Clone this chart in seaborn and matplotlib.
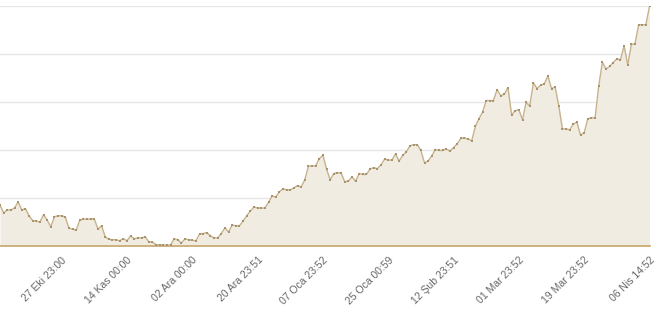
import numpy as np
import pandas as pd
import matplotlib
matplotlib.use("Agg")
import matplotlib.pyplot as plt
import matplotlib.transforms as mtrans
import seaborn as sns

# Daily values (visible window)
values = [
    8.5, 6.9, 7.5, 7.5, 7.9, 9.2, 7.5, 7.8, 6.3, 5.3,
    5.2, 5.0, 6.5, 5.4, 4.0, 6.1, 6.3, 6.3, 6.0, 3.7,
    3.5, 3.3, 5.4, 5.6, 5.6, 5.6, 5.6, 3.5, 4.2, 1.9,
    1.4, 1.3, 1.3, 1.1, 1.5, 1.1, 2.1, 1.5, 1.7, 1.7,
    1.9, 0.9, 0.8, 0.3, 0.2, 0.2, 0.2, 0.2, 1.5, 1.3,
    0.6, 1.5, 1.3, 1.2, 1.1, 2.5, 2.6, 2.8, 2.1, 1.7,
    1.7, 2.6, 3.8, 2.9, 4.4, 4.2, 4.2, 5.2, 6.3, 7.3,
    8.1, 7.9, 7.9, 7.9, 9.1, 10.4, 10.2, 11.3, 11.9, 11.7,
    11.7, 12.1, 12.6, 12.3, 13.8, 16.6, 16.7, 16.7, 18.2, 18.9,
    16.0, 13.8, 15.1, 15.3, 15.2, 13.4, 13.5, 14.4, 13.5, 15.1,
    14.9, 14.9, 16.1, 16.3, 16.1, 16.9, 18.1, 17.9, 17.9, 19.2,
    17.7, 18.9, 19.6, 20.9, 21.1, 21.1, 19.9, 17.3, 17.7, 18.8,
    20.1, 19.9, 19.9, 20.2, 19.8, 20.5, 21.3, 22.4, 22.5, 22.3,
    21.9, 24.9, 26.5, 27.9, 30.3, 30.3, 30.3, 32.6, 31.3, 31.6,
    33.0, 27.3, 28.2, 28.4, 26.3, 29.9, 29.2, 34.0, 32.8, 33.5,
    33.8, 35.4, 32.8, 33.1, 29.2, 24.4, 24.4, 24.2, 25.4, 25.8,
    23.1, 23.6, 26.5, 26.7, 26.7, 33.3, 38.3, 36.9, 37.4, 38.2,
    39.0, 38.8, 41.7, 37.7, 42.0, 42.1, 46.1, 46.1, 46.1, 49.9,
]
tick_positions = [17, 35, 53, 71, 89, 107, 125, 143, 161, 179]
tick_labels = [
    "27 Eki 23:00", "14 Kas 00:00", "02 Ara 00:00", "20 Ara 23:51",
    "07 Oca 23:52", "25 Oca 00:59", "12 Şub 23:51", "01 Mar 23:52",
    "19 Mar 23:52", "06 Nis 14:52",
]
cut_label = "09 Eki 23:00"
y_ticks = [0, 10, 20, 30, 40, 50]

df = pd.DataFrame({"idx": np.arange(len(values)), "value": values})

sns.set_style("white")
plt.rcParams["font.family"] = ["Liberation Sans", "DejaVu Sans"]

W, H = 664, 314
fig = plt.figure(figsize=(W / 100, H / 100), dpi=100)
ax = fig.add_axes([0 / W, (H - 246) / H, 649.5 / W, 240 / H])

line_c = "#c6b28b"
fill_c = "#f1ece2"
axis_c = "#c8a66c"
label_c = "#666666"
fs = 7.5

ax.fill_between(df["idx"], df["value"], 0, color=fill_c, lw=0, zorder=1)
sns.lineplot(data=df, x="idx", y="value", ax=ax, color=line_c, lw=1.0,
             marker="s", markersize=1.8, markeredgewidth=0,
             markerfacecolor="#a8936c", zorder=3)

ax.set_xlim(0, len(values) - 1)
ax.set_ylim(0, 50)
ax.set_yticks(y_ticks)
ax.set_yticklabels([])
ax.yaxis.grid(True, color="#e6e6e6", lw=1)
ax.xaxis.grid(False)
ax.tick_params(axis="y", length=0)

ax.set_xticks(tick_positions)
ax.set_xticklabels(tick_labels, rotation=45, ha="right", va="top",
                   rotation_mode="anchor", fontsize=fs, color=label_c)
ax.tick_params(axis="x", length=5, width=1, color=axis_c, pad=1.5)

for s in ["top", "right", "left"]:
    ax.spines[s].set_visible(False)
ax.spines["bottom"].set_color(axis_c)
ax.spines["bottom"].set_linewidth(1.2)
ax.set_xlabel("")
ax.set_ylabel("")

# label of the tick just outside the left edge (cut off in the view, as in the reference)
trans = mtrans.blended_transform_factory(ax.transData, ax.transAxes)
off = mtrans.ScaledTranslation(0, -6.5 / 72, fig.dpi_scale_trans)
ax.text(-1, 0, cut_label, transform=trans + off, rotation=45, ha="right",
        va="top", rotation_mode="anchor", fontsize=fs, color=label_c,
        clip_on=False)

fig.savefig("out.png", dpi=100)
